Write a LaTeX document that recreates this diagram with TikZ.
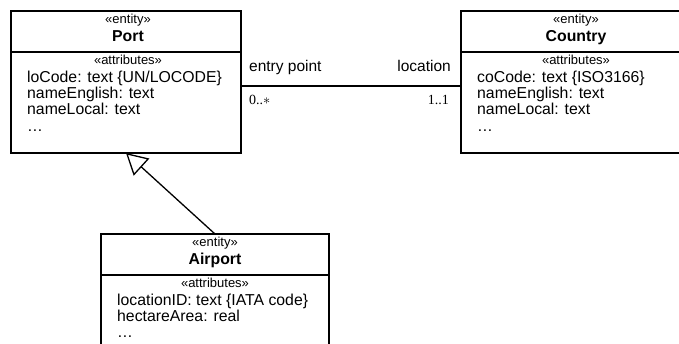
\documentclass[tikz,border=0pt]{standalone}
\usepackage{fontspec}
\setmainfont{Liberation Sans}
\newfontfamily\multfont{Liberation Serif}
\usetikzlibrary{arrows.meta,calc}
\begin{document}
\begin{tikzpicture}[x=1pt,y=-1pt,
  entitybox/.style={draw,line width=2.2pt,rectangle,outer sep=0pt,inner sep=0pt,
    minimum width=230pt,minimum height=142pt,anchor=north west},
  stereo/.style={font=\fontsize{13}{14}\selectfont,inner sep=0pt,anchor=base},
  classname/.style={font=\fontsize{15.8}{17}\selectfont\bfseries,inner sep=0pt,anchor=base},
  attr/.style={font=\fontsize{15.8}{17}\selectfont,inner sep=0pt,anchor=base west},
  rolelabel/.style={font=\fontsize{15.5}{17}\selectfont,inner sep=0pt},
  mult/.style={font=\fontsize{14}{15}\multfont,inner sep=0pt},
  divider/.style={line width=1.6pt},
  assoc/.style={line width=1.3pt},
  generalization/.style={line width=1.3pt,-{Triangle[open,length=21pt,width=23pt,line width=1.3pt]}}
]
\useasboundingbox[fill=white] (0,0) rectangle (679,343);

% ---- Port ----
\node[entitybox] (port) at (11,11) {};
\draw[divider] ($(port.north west)+(0,41)$) -- ($(port.north east)+(0,41)$);
\node[stereo] (port-st) at ($(port.north)+(2,12.5)$) {«entity»};
\node[classname] (port-name) at ($(port.north)+(2,30.5)$) {Port};
\node[stereo] (port-at) at ($(port.north)+(2,53)$) {«attributes»};
\node[attr] (port-a1) at ($(port.north west)+(16,71)$) {loCode: text \{UN/LOCODE\}};
\node[attr] (port-a2) at ($(port.north west)+(16,87.3)$) {nameEnglish: text};
\node[attr] (port-a3) at ($(port.north west)+(16,103.6)$) {nameLocal: text};
\node[attr] (port-a4) at ($(port.north west)+(16,120)$) {…};

% ---- Country ----
\node[entitybox] (country) at (461,11) {};
\draw[divider] ($(country.north west)+(0,41)$) -- ($(country.north east)+(0,41)$);
\node[stereo] (country-st) at ($(country.north)+(0,12.5)$) {«entity»};
\node[classname] (country-name) at ($(country.north)+(0,30.5)$) {Country};
\node[stereo] (country-at) at ($(country.north)+(0,53)$) {«attributes»};
\node[attr] (country-a1) at ($(country.north west)+(16,71)$) {coCode: text \{ISO3166\}};
\node[attr] (country-a2) at ($(country.north west)+(16,87.3)$) {nameEnglish: text};
\node[attr] (country-a3) at ($(country.north west)+(16,103.6)$) {nameLocal: text};
\node[attr] (country-a4) at ($(country.north west)+(16,120)$) {…};

% ---- Airport ----
\node[entitybox,minimum width=228pt] (airport) at (101,234) {};
\draw[divider] ($(airport.north west)+(0,41)$) -- ($(airport.north east)+(0,41)$);
\node[stereo] (airport-st) at ($(airport.north)+(0,12.5)$) {«entity»};
\node[classname] (airport-name) at ($(airport.north)+(0,30.5)$) {Airport};
\node[stereo] (airport-at) at ($(airport.north)+(0,53)$) {«attributes»};
\node[attr] (airport-a1) at ($(airport.north west)+(16,71)$) {locationID: text \{IATA code\}};
\node[attr] (airport-a2) at ($(airport.north west)+(16,87.3)$) {hectareArea: real};
\node[attr] (airport-a3) at ($(airport.north west)+(16,103.6)$) {…};

% ---- association Port -- Country ----
\coordinate (assoc-l) at ($(port.north east)+(0,75)$);
\coordinate (assoc-r) at ($(country.north west)+(0,75)$);
\draw[assoc] (assoc-l) -- (assoc-r);
\node[rolelabel,anchor=base west] (role-l) at ($(assoc-l)+(8,-15)$) {entry point};
\node[rolelabel,anchor=base east] (role-r) at ($(assoc-r)+(-10,-15)$) {location};
\node[mult,anchor=base west] (mult-l) at ($(assoc-l)+(8,18)$) {0..$\ast$};
\node[mult,anchor=base east] (mult-r) at ($(assoc-r)+(-12,18)$) {1..1};

% ---- generalization Airport -> Port ----
\draw[generalization] (airport.north) -- (port.south);
\end{tikzpicture}
\end{document}
